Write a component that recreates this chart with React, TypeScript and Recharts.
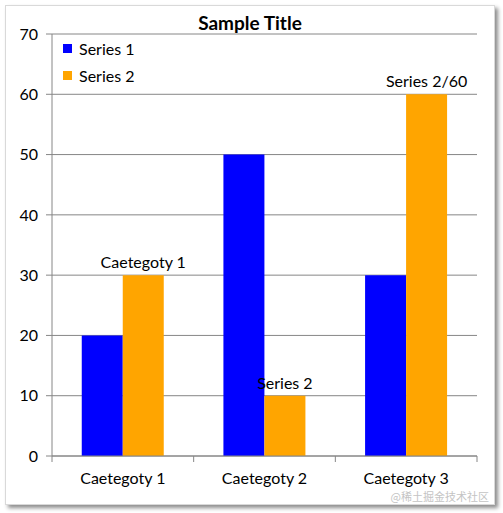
import { Bar, BarChart, CartesianGrid, LabelList, XAxis, YAxis } from "recharts";

const categories = ["Caetegoty 1", "Caetegoty 2", "Caetegoty 3"];
const series1 = [20, 50, 30];
const series2 = [30, 10, 60];
const series2Labels = ["Caetegoty 1", "Series 2", "Series 2/60"];
const yTicks = [0, 10, 20, 30, 40, 50, 60, 70];

const BLUE = "#0000FF";
const ORANGE = "#FFA500";
const AXIS = "#868686";
const FONT = "Lato, 'Open Sans', sans-serif";

const data = categories.map((name, i) => ({ name, s1: series1[i], s2: series2[i] }));

// x-axis tick: label at the category centre, tick marks on the band edges
function CategoryTick(props: any) {
  const { x, y, payload, index, width, visibleTicksCount } = props;
  const band = width / (visibleTicksCount || categories.length);
  return (
    <g>
      <line x1={x - band / 2} x2={x - band / 2} y1={y - 8} y2={y - 2} stroke={AXIS} />
      {index === categories.length - 1 && (
        <line x1={x + band / 2} x2={x + band / 2} y1={y - 8} y2={y - 2} stroke={AXIS} />
      )}
      <text x={x} y={y + 20} textAnchor="middle" fill="#000" fontSize={16} fontFamily={FONT}>
        {payload.value}
      </text>
    </g>
  );
}

function LegendBox() {
  const items = [
    { label: "Series 1", color: BLUE },
    { label: "Series 2", color: ORANGE },
  ];
  return (
    <div style={{ position: "absolute", left: 57, top: 29, fontFamily: FONT, fontSize: 16, color: "#000" }}>
      {items.map((it) => (
        <div key={it.label} style={{ display: "flex", alignItems: "center", height: 27 }}>
          <span style={{ width: 9, height: 9, background: it.color, marginRight: 7 }} />
          {it.label}
        </div>
      ))}
    </div>
  );
}

export default function App() {
  return (
    <div style={{ position: "absolute", left: 0, top: 0, width: 503, height: 513, background: "#fff" }}>
      <div
        style={{
          position: "absolute",
          left: 5,
          top: 5,
          width: 488,
          height: 498,
          border: "1px solid #d9d9d9",
          boxShadow: "3px 3px 4px rgba(0,0,0,0.45)",
          background: "#fff",
        }}
      >
        <div
          style={{
            position: "absolute",
            left: 0,
            width: 488,
            top: 5,
            textAlign: "center",
            fontFamily: FONT,
            fontWeight: 700,
            fontSize: 19,
            color: "#000",
          }}
        >
          Sample Title
        </div>
        <BarChart
          width={488}
          height={498}
          data={data}
          margin={{ top: 28, right: 17, left: 0, bottom: 18 }}
          barCategoryGap="21%"
          barGap={0}
        >
          <CartesianGrid vertical={false} stroke={AXIS} />
          <XAxis
            dataKey="name"
            axisLine={{ stroke: AXIS }}
            tickLine={false}
            tick={<CategoryTick />}
            height={30}
            interval={0}
          />
          <YAxis
            domain={[0, 70]}
            ticks={yTicks}
            width={46}
            axisLine={{ stroke: AXIS }}
            tickLine={{ stroke: AXIS }}
            tickSize={6}
            tickMargin={8}
            tick={{ fill: "#000", fontSize: 16, fontFamily: FONT }}
          />
          <Bar dataKey="s1" name="Series 1" fill={BLUE} isAnimationActive={false} />
          <Bar dataKey="s2" name="Series 2" fill={ORANGE} isAnimationActive={false}>
            <LabelList
              dataKey="s2"
              content={(p: any) => (
                <text
                  x={p.x + p.width / 2}
                  y={p.y - 7}
                  textAnchor="middle"
                  fill="#000"
                  fontSize={16}
                  fontFamily={FONT}
                >
                  {series2Labels[p.index]}
                </text>
              )}
            />
          </Bar>
        </BarChart>
        <LegendBox />
        <div
          style={{
            position: "absolute",
            right: 5,
            bottom: 1,
            fontFamily: "'Noto Sans CJK SC', sans-serif",
            fontSize: 11,
            lineHeight: "14px",
            color: "#c4c4c4",
          }}
        >
          @稀土掘金技术社区
        </div>
      </div>
    </div>
  );
}
